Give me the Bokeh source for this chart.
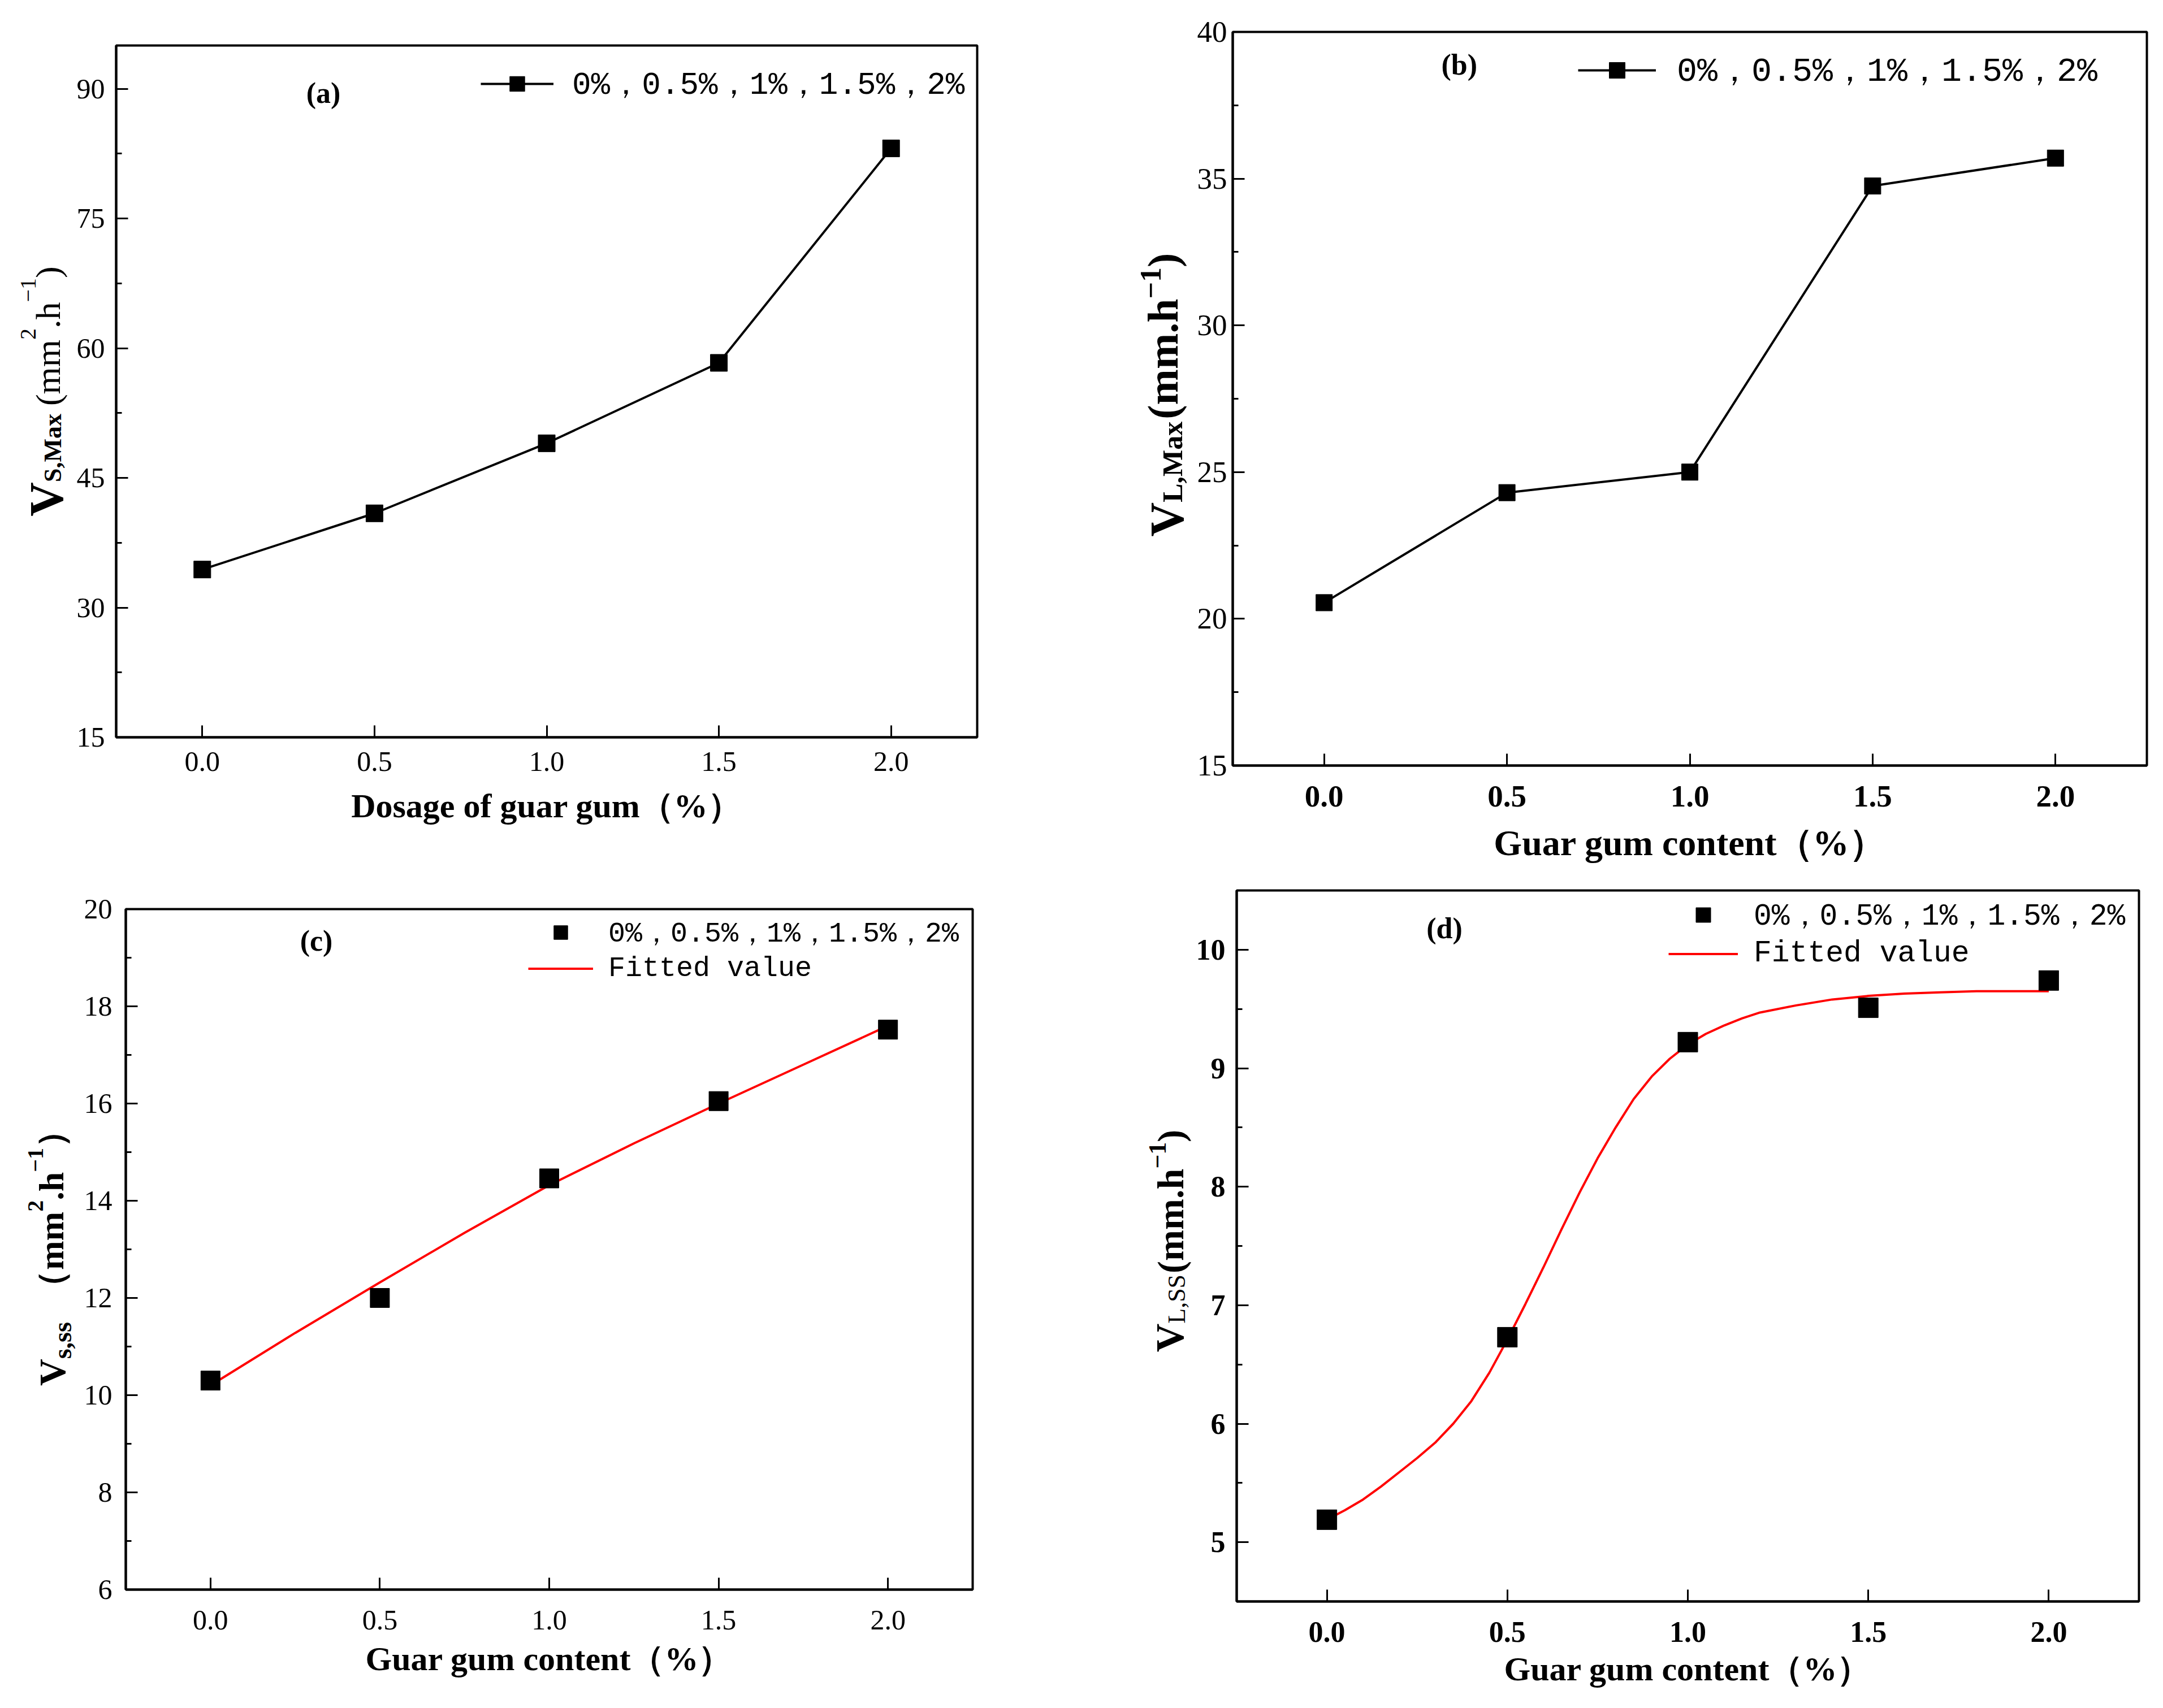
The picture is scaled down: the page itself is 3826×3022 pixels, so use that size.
import math
from bokeh.plotting import figure
from bokeh.models import (Range1d, FixedTicker, Legend, LegendItem, Label,
                          PrintfTickFormatter)
from bokeh.layouts import row, column
from bokeh.embed import file_html
from bokeh.resources import INLINE

# ---------------- data ----------------
guar_gum = [0.0, 0.5, 1.0, 1.5, 2.0]
vs_max = [34.4, 40.9, 49.0, 58.3, 83.1]
vl_max = [20.55, 24.3, 25.0, 34.75, 35.7]
vs_ss = [10.3, 12.0, 14.46, 16.05, 17.52]
vl_ss = [5.19, 6.73, 9.22, 9.51, 9.74]

fit_c_x = [0.0, 0.25, 0.5, 0.75, 1.0, 1.25, 1.5, 1.75, 2.0]
fit_c_y = [10.2, 11.28, 12.32, 13.34, 14.32, 15.18, 16.0, 16.8, 17.6]

fit_d_x = [0.0, 0.05, 0.1, 0.15, 0.2, 0.25, 0.3, 0.35, 0.4, 0.45, 0.5, 0.55,
           0.6, 0.65, 0.7, 0.75, 0.8, 0.85, 0.9, 0.95, 1.0, 1.05, 1.1, 1.15,
           1.2, 1.3, 1.4, 1.5, 1.6, 1.7, 1.8, 1.9, 2.0]
fit_d_y = [5.19, 5.27, 5.36, 5.47, 5.59, 5.71, 5.84, 6.00, 6.19, 6.43, 6.71,
           7.01, 7.32, 7.64, 7.95, 8.24, 8.50, 8.74, 8.93, 9.08, 9.20, 9.29,
           9.36, 9.42, 9.47, 9.53, 9.58, 9.61, 9.63, 9.64, 9.65, 9.65, 9.65]

x_ticks = [0.0, 0.5, 1.0, 1.5, 2.0]
a_yticks = [15, 30, 45, 60, 75, 90]
a_yminor = [22.5, 37.5, 52.5, 67.5, 82.5]
b_yticks = [15, 20, 25, 30, 35, 40]
b_yminor = [17.5, 22.5, 27.5, 32.5, 37.5]
c_yticks = [6, 8, 10, 12, 14, 16, 18, 20]
c_yminor = [7, 9, 11, 13, 15, 17, 19]
d_yticks = [5, 6, 7, 8, 9, 10]
d_yminor = [5.5, 6.5, 7.5, 8.5, 9.5]

legend_points = "0%，0.5%，1%，1.5%，2%"
legend_fit = "Fitted value"
xtitle_a = "Dosage of guar gum（%）"
xtitle_bcd = "Guar gum content（%）"

SERIF = "Liberation Serif"
MONO = "Liberation Mono"

# ---------------- geometry (page pixels; Bokeh's page has no body margin) ----
LEFT_W = 1913
RIGHT_W = 1909
ROW1_Y, ROW1_H = 0, 1567
ROW2_Y, ROW2_H = 1567, 1454

TR = {"V": .722, "S": .556, "M": .889, "L": .611, "a": .444, "x": .5, "s": .389,
      "m": .778, "h": .5, "(": .333, ")": .333, ".": .25, ",": .25, "−": .564,
      "（": 1.0, "）": 1.0}
TB = {"V": .722, "S": .556, "M": .944, "L": .667, "a": .5, "x": .5, "s": .389,
      "m": .833, "h": .556, "(": .333, ")": .333, ".": .25, ",": .25, "−": .570,
      "（": 1.0, "）": 1.0}
DESC = 0.21  # rotated labels render shifted by about the font descent


def text_w(t, size, bold):
    tab = TB if bold else TR
    return sum(tab.get(c, 0.5) for c in t) * size


def no_align(p):
    try:
        p.frame_align = False
    except Exception:
        pass


class Geo:
    def __init__(self, ox, oy, w, h, left, right, top, bottom, yr):
        self.ox, self.oy, self.w, self.h = ox, oy, w, h
        self.left, self.right, self.top, self.bottom = left, right, top, bottom
        self.x0, self.x1 = -0.25, 2.25
        self.y0, self.y1 = yr

    def dx(self, px):
        return self.x0 + (px - self.left) * (self.x1 - self.x0) / (self.right - self.left)

    def dy(self, py):
        return self.y0 + (self.bottom - py) * (self.y1 - self.y0) / (self.bottom - self.top)


def make_fig(g, yticks, yminor, xbold, ybold, xsize, ysize, xstand, ystand,
             xtitle, xtitle_size, xtitle_stand):
    p = figure(width=g.w, height=g.h,
               x_range=Range1d(g.x0, g.x1), y_range=Range1d(g.y0, g.y1),
               output_backend="svg", toolbar_location=None,
               min_border_left=g.left - g.ox,
               min_border_right=g.ox + g.w - g.right,
               min_border_top=g.top - g.oy,
               min_border_bottom=g.oy + g.h - g.bottom)
    no_align(p)
    p.xgrid.visible = False
    p.ygrid.visible = False
    p.outline_line_color = "black"
    p.outline_line_width = 4
    p.background_fill_color = "white"
    p.border_fill_color = "white"

    xa = p.xaxis[0]
    xa.ticker = FixedTicker(ticks=x_ticks, minor_ticks=[])
    xa.formatter = PrintfTickFormatter(format="%.1f")
    ya = p.yaxis[0]
    ya.ticker = FixedTicker(ticks=yticks, minor_ticks=yminor)
    for ax in (xa, ya):
        ax.axis_line_color = "black"
        ax.axis_line_width = 4
        ax.major_tick_in = 21
        ax.major_tick_out = 0
        ax.minor_tick_in = 10
        ax.minor_tick_out = 0
        ax.major_tick_line_width = 3
        ax.minor_tick_line_width = 3
        ax.major_tick_line_color = "black"
        ax.minor_tick_line_color = "black"
        ax.major_label_text_font = SERIF
        ax.major_label_text_color = "black"
    xa.major_label_text_font_size = f"{xsize}px"
    xa.major_label_text_font_style = "bold" if xbold else "normal"
    xa.major_label_standoff = xstand
    ya.major_label_text_font_size = f"{ysize}px"
    ya.major_label_text_font_style = "bold" if ybold else "normal"
    ya.major_label_standoff = ystand
    ya.axis_label = None

    xa.axis_label = xtitle
    xa.axis_label_text_font = SERIF
    xa.axis_label_text_font_style = "bold"
    xa.axis_label_text_font_size = f"{xtitle_size}px"
    xa.axis_label_text_color = "black"
    xa.axis_label_standoff = xtitle_stand
    return p


def title_fig(ox, oy, w, h, pieces, center_y):
    """Narrow figure carrying a rotated y-axis title built from text pieces.
    pieces: (text, size, bold, baseline_x_page_px, gap_before_px)"""
    t = figure(width=w, height=h, x_range=Range1d(0, w), y_range=Range1d(0, h),
               output_backend="svg", toolbar_location=None,
               x_axis_location=None, y_axis_location=None,
               min_border_left=0, min_border_right=0, min_border_top=0,
               min_border_bottom=0)
    no_align(t)
    t.grid.visible = False
    t.outline_line_color = None
    t.background_fill_color = "white"
    t.border_fill_color = "white"
    total = sum(text_w(s, sz, b) + gap for s, sz, b, _, gap in pieces)
    y = center_y + total / 2.0
    for s, sz, b, bx, gap in pieces:
        y -= gap
        t.add_layout(Label(x=bx - DESC * sz - ox, y=(oy + h) - y, text=s,
                           angle=math.pi / 2,
                           text_align="left", text_baseline="alphabetic",
                           text_font=SERIF, text_font_size=f"{sz}px",
                           text_font_style="bold" if b else "normal",
                           text_color="black"))
        y -= text_w(s, sz, b)
    return t


def panel_tag(p, g, tag, cx, cy):
    p.add_layout(Label(x=g.dx(cx), y=g.dy(cy), text=tag, text_align="center",
                       text_baseline="middle", text_font=SERIF,
                       text_font_size="52px", text_font_style="bold",
                       text_color="black"))


def add_legend(p, g, items, glyph_left, first_center, row_h, glyph_w, standoff,
               font_size):
    n = len(items)
    top_off = first_center - row_h / 2.0 - g.top
    frame_h = g.bottom - g.top
    leg = Legend(items=items,
                 location=(glyph_left - g.left, frame_h - top_off - n * row_h),
                 padding=0, margin=0, spacing=0,
                 glyph_width=glyph_w, glyph_height=row_h, label_height=row_h,
                 label_standoff=standoff,
                 label_text_font=MONO, label_text_font_size=f"{font_size}px",
                 label_text_color="black",
                 border_line_color=None, background_fill_alpha=0)
    p.add_layout(leg)


# ---------------- panel (a) ----------------
TA_W = 132
ta = title_fig(0, ROW1_Y, TA_W, ROW1_H,
               [("V", 84, True, 100, 0), ("S,Max", 44, True, 102, 0),
                ("(mm", 62, False, 98, 14), ("2", 40, False, 58, 0),
                (".h", 62, False, 98, 0), ("−1", 40, False, 58, 0),
                (")", 62, False, 98, 0)], 692)
ga = Geo(TA_W, ROW1_Y, LEFT_W - TA_W, ROW1_H, 203, 1728, 80, 1304, (15, 95))
pa = make_fig(ga, a_yticks, a_yminor, False, False, 50, 50, 26, 20,
              xtitle_a, 60, 26)
la = pa.line(guar_gum, vs_max, line_color="black", line_width=4)
sa = pa.scatter(guar_gum, vs_max, marker="square", size=30, color="black")
add_legend(pa, ga, [LegendItem(label=legend_points, renderers=[la, sa])],
           848, 153, 66, 129, 33, 56)
panel_tag(pa, ga, "(a)", 570, 164)

# ---------------- panel (b) ----------------
TB_W = 201
tb = title_fig(LEFT_W, ROW1_Y, TB_W, ROW1_H,
               [("V", 84, True, 2082, 0), ("L,Max", 50, True, 2084, 0),
                ("(mm.h", 76, True, 2072, 4), ("−1", 52, True, 2046, 0),
                (")", 76, True, 2072, 0)], 698)
gb = Geo(LEFT_W + TB_W, ROW1_Y, RIGHT_W - TB_W, ROW1_H, 2179, 3797, 56, 1354, (15, 40))
pb = make_fig(gb, b_yticks, b_yminor, True, False, 55, 53, 36, 10,
              xtitle_bcd, 64, 26)
lb = pb.line(guar_gum, vl_max, line_color="black", line_width=4)
sb = pb.scatter(guar_gum, vl_max, marker="square", size=29, color="black")
add_legend(pb, gb, [LegendItem(label=legend_points, renderers=[lb, sb])],
           2790, 129, 70, 138, 37, 60)
panel_tag(pb, gb, "(b)", 2580, 114)

# ---------------- panel (c) ----------------
TC_W = 138
tc = title_fig(0, ROW2_Y, TC_W, ROW2_H,
               [("V", 66, True, 106, 0), ("s,ss", 46, True, 120, 0),
                ("（mm", 62, True, 104, 30), ("2", 40, True, 71, 0),
                (".h", 62, True, 104, 0), ("−1", 40, True, 71, 0),
                ("）", 62, True, 104, 0)], 2210)
gc = Geo(TC_W, ROW2_Y, LEFT_W - TC_W, ROW2_H, 222, 1720, 1608, 2812, (6, 20))
pc = make_fig(gc, c_yticks, c_yminor, False, False, 50, 50, 37, 24,
              xtitle_bcd, 60, 16)
fc = pc.line(fit_c_x, fit_c_y, line_color="red", line_width=4)
sc = pc.scatter(guar_gum, vs_ss, marker="square", size=34, color="black")
add_legend(pc, gc, [LegendItem(label=legend_points, renderers=[sc]),
                    LegendItem(label=legend_fit, renderers=[fc])],
           934, 1652, 61, 115, 27, 50)
panel_tag(pc, gc, "(c)", 559, 1664)

# ---------------- panel (d) ----------------
TD_W = 199
td = title_fig(LEFT_W, ROW2_Y, TD_W, ROW2_H,
               [("V", 70, True, 2084, 0), ("L,SS", 44, False, 2090, 0),
                ("(mm.h", 66, True, 2084, 2), ("−1", 44, True, 2056, 0),
                (")", 66, True, 2084, 0)], 2195)
gd = Geo(LEFT_W + TD_W, ROW2_Y, RIGHT_W - TD_W, ROW2_H, 2185, 3783, 1575, 2833, (4.5, 10.5))
pd_ = make_fig(gd, d_yticks, d_yminor, True, True, 52, 52, 36, 20,
               xtitle_bcd, 60, 12)
fd = pd_.line(fit_d_x, fit_d_y, line_color="red", line_width=4)
sd = pd_.scatter(guar_gum, vl_ss, marker="square", size=35, color="black")
add_legend(pd_, gd, [LegendItem(label=legend_points, renderers=[sd]),
                     LegendItem(label=legend_fit, renderers=[fd])],
           2949, 1622, 65, 123, 28, 53)
panel_tag(pd_, gd, "(d)", 2553, 1642)

layout = column(row(ta, pa, tb, pb), row(tc, pc, td, pd_))
open("out.html", "w").write(file_html(layout, INLINE))
